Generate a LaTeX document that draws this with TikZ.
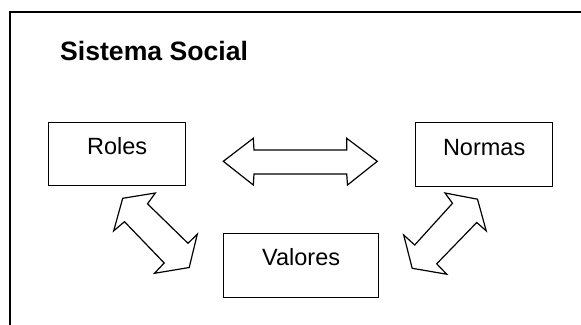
\documentclass[tikz,border=0pt]{standalone}
\usepackage{fontspec}
\setmainfont{Liberation Sans}
\begin{document}
\begin{tikzpicture}[x=1pt,y=-1pt,
  box/.style={draw,line width=1.3pt,rectangle,inner sep=0pt,anchor=north west,
    font=\fontsize{23.5}{28}\selectfont},
  blockarrow/.style={draw,line width=1.2pt,line join=miter,fill=white}]
\useasboundingbox (0,0) rectangle (581,324);
% outer frame (open at right and bottom)
\draw[line width=1.5pt] (10,330) -- (10,12) -- (590,12);
\node[anchor=base west,inner sep=0pt,font=\fontsize{26.6}{30}\selectfont\bfseries] (title) at (60,60) {Sistema Social};
% boxes
\node[box,minimum width=137pt,text height=32pt,text depth=31pt] (roles) at (48,122) {Roles};
\node[box,minimum width=137pt,text height=33pt,text depth=31pt] (normas) at (415,122) {Normas};
\node[box,minimum width=155pt,text height=32pt,text depth=32pt] (valores) at (223,233) {Valores};
% horizontal double arrow between Roles and Normas
\draw[blockarrow] (223.3,161.3) -- (253.3,138.3) -- (254,150) -- (346.7,150) -- (346.7,138.3)
  -- (377.3,161.3) -- (347.5,185) -- (346.7,174) -- (254,174) -- (253.3,185) -- cycle;
% diagonal double arrow between Roles and Valores
\draw[blockarrow] (122.7,198.3) -- (155.3,193) -- (147.5,203.8) -- (188,243.3) -- (197.3,234.2)
  -- (189.2,267.5) -- (154.5,273.3) -- (164.2,263) -- (124.5,221.7) -- (113.7,230.8) -- cycle;
% diagonal double arrow between Normas and Valores
\draw[blockarrow] (445,193) -- (477.5,199.2) -- (486.2,230.8) -- (476.7,222.5) -- (436.7,263.8)
  -- (446.7,274.2) -- (412.2,268.3) -- (403.7,235) -- (414.7,245) -- (452.5,203.3) -- cycle;
\end{tikzpicture}
\end{document}
